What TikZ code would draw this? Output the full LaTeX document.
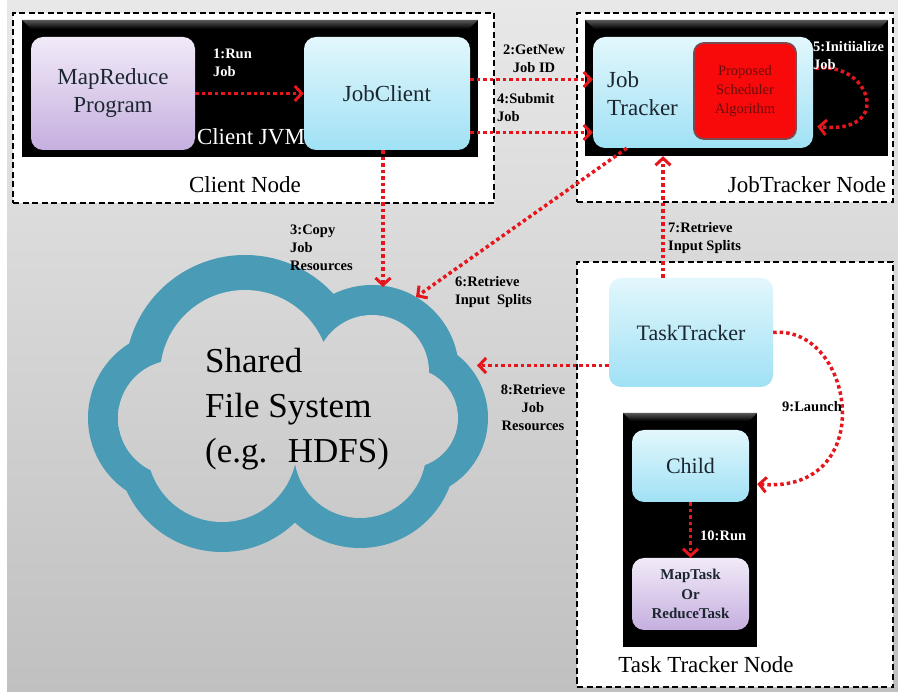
\documentclass[tikz,border=0pt]{standalone}
\usepackage{fontspec}
\setmainfont{Liberation Serif}
\usetikzlibrary{arrows.meta}
\definecolor{bgtop}{HTML}{E8E8E8}
\definecolor{bgbot}{HTML}{C0C0C0}
\definecolor{arrred}{HTML}{E5161C}
\definecolor{cloudc}{HTML}{4A9BB6}
\definecolor{cyantop}{HTML}{E2F7FC}
\definecolor{cyanbot}{HTML}{A0E1F5}
\definecolor{lavtop}{HTML}{F1EAF8}
\definecolor{lavbot}{HTML}{C5AFDF}
\definecolor{boxtxt}{HTML}{1C2630}
\definecolor{redbox}{HTML}{F80A0A}
\definecolor{redbord}{HTML}{7A4A50}
\definecolor{redtxt}{HTML}{6B0D0D}
\definecolor{bevel}{HTML}{5A5A5A}
\newcommand\szBig{\fontsize{23}{28}\selectfont}
\newcommand\szLbl{\fontsize{14.5}{18}\selectfont\bfseries}
\newcommand\szCloud{\fontsize{35}{45}\selectfont}
\tikzset{
  nodebox/.style={draw=black, line width=1.8pt, dash pattern=on 6pt off 3.5pt, fill=white, inner sep=0pt},
  jvmbox/.style={fill=black, inner sep=0pt},
  bevelshade/.style={top color=bevel, bottom color=black},
  cyanbox/.style={rounded corners=12pt, top color=cyantop, bottom color=cyanbot, text=boxtxt, font=\szBig, inner sep=0pt, align=center},
  lavbox/.style={rounded corners=12pt, top color=lavtop, bottom color=lavbot, text=boxtxt, font=\szBig, inner sep=0pt, align=center},
  algbox/.style={rounded corners=10pt, fill=redbox, draw=redbord, line width=1.8pt, text=redtxt, font=\fontsize{14.5}{19}\selectfont, inner sep=0pt, align=center},
  bigtxt/.style={font=\szBig, inner sep=0pt},
  lbl/.style={font=\szLbl, text=black, inner sep=0pt},
  wlbl/.style={lbl, text=white},
  flow/.style={draw=arrred, line width=3.5pt, dash pattern=on 3.5pt off 3pt,
    -{Straight Barb[length=7pt,width=15pt,line width=3pt]}}
}
\begin{document}
\begin{tikzpicture}[x=1pt,y=-1pt]
\useasboundingbox (0,0) rectangle (898,692);
\fill[white] (0,0) rectangle (898,692);
\shade[top color=bgtop,bottom color=bgbot] (7,0) rectangle (898,692);

% cloud
\fill[cloudc] (176,418) circle[radius=88pt] (245,375) circle[radius=120pt]
  (372,372) circle[radius=87pt] (408,418) circle[radius=80pt]
  (360,452) circle[radius=96pt] (222,447) circle[radius=105pt];
\begin{scope}
\clip (176,418) circle[radius=58pt] (245,375) circle[radius=85pt]
  (372,372) circle[radius=57pt] (408,418) circle[radius=50pt]
  (360,452) circle[radius=66pt] (222,447) circle[radius=75pt];
\shade[top color=bgtop,bottom color=bgbot] (7,0) rectangle (898,692);
\end{scope}
\node[font=\szCloud, inner sep=0pt, anchor=base west] (fs1) at (205,373) {Shared};
\node[font=\szCloud, inner sep=0pt, anchor=base west] (fs2) at (205,418) {File System};
\node[font=\szCloud, inner sep=0pt, anchor=base west] (fs3) at (205,463) {(e.g.~ HDFS)};
\coordinate (cl3) at (383,287);
\coordinate (cl6) at (416,297);
\coordinate (cl8) at (477,365.5);

% client node
\node[nodebox, minimum width=481pt, minimum height=190pt] (cnode) at (253.5,108) {};
\node[jvmbox, minimum width=456pt, minimum height=137pt] (cjvm) at (250,88.5) {};
\shade[bevelshade] (cjvm.north west) -- (cjvm.north east) -- ([xshift=-9pt,yshift=-9pt]cjvm.north east) -- ([xshift=9pt,yshift=-9pt]cjvm.north west) -- cycle;
\node[lavbox, minimum width=164pt, minimum height=113pt] (mr) at (113,93.5) {MapReduce\\Program};
\node[cyanbox, minimum width=166pt, minimum height=113pt] (jc) at (387,93.5) {JobClient};
\node[bigtxt, text=white] (cjvmt) at (251,137) {Client JVM};
\node[bigtxt] (cnodet) at (245,185) {Client Node};

% jobtracker node
\node[nodebox, minimum width=316pt, minimum height=189pt] (jtnode) at (735,107.5) {};
\node[jvmbox, minimum width=303pt, minimum height=136pt] (jtb) at (736.5,88) {};
\shade[bevelshade] (jtb.north west) -- (jtb.north east) -- ([xshift=-9pt,yshift=-9pt]jtb.north east) -- ([xshift=9pt,yshift=-9pt]jtb.north west) -- cycle;
\node[cyanbox, minimum width=220pt, minimum height=111pt] (jt) at (703,92.5) {};
\node[bigtxt, text=boxtxt, align=left, anchor=west] (jtt) at (607,94) {Job\\Tracker};
\node[algbox, minimum width=102pt, minimum height=96pt] (alg) at (745,91) {Proposed\\Scheduler\\Algorithm};
\node[bigtxt] (jtnodet) at (807,185) {JobTracker Node};

% tasktracker node
\node[nodebox, minimum width=316pt, minimum height=425pt] (ttnode) at (735,474.5) {};
\node[cyanbox, font=\fontsize{22}{26}\selectfont, minimum width=164pt, minimum height=109pt] (tt) at (691,332.5) {TaskTracker};
\node[jvmbox, minimum width=134pt, minimum height=234pt] (chb) at (690,530) {};
\shade[bevelshade] (chb.north west) -- (chb.north east) -- ([xshift=-8pt,yshift=-8pt]chb.north east) -- ([xshift=8pt,yshift=-8pt]chb.north west) -- cycle;
\node[cyanbox, font=\fontsize{22}{26}\selectfont, minimum width=117pt, minimum height=72pt] (ch) at (690.5,466) {Child};
\node[lavbox, font=\fontsize{15}{19.5}\selectfont\bfseries, minimum width=117pt, minimum height=72pt] (mt) at (690.5,594) {MapTask\\Or\\ReduceTask};
\node[bigtxt] (ttnodet) at (706,665) {Task Tracker Node};

% connectors
\draw[flow] (mr.east) -- (jc.west);
\draw[flow] ([yshift=14pt]jc.east) -- ([yshift=14pt]jc.east -| jt.west);
\draw[flow] ([yshift=-39pt]jc.east) -- ([yshift=-39pt]jc.east -| jt.west);
\draw[flow] ([xshift=-4pt]jc.south) -- (cl3);
\draw[flow] ([xshift=2pt,yshift=24pt]jt.east) .. controls (870,60) and (895,135) .. ([xshift=4pt,yshift=-34pt]jt.east);
\draw[flow] ([xshift=34pt]jt.south west) -- (cl6);
\draw[flow] ([xshift=-28pt]tt.north) -- ([xshift=-28pt]tt.north |- jtb.south);
\draw[flow] ([yshift=-33pt]tt.west) -- (cl8);
\draw[flow] (tt.east) .. controls (855,325) and (880,495) .. ([yshift=46pt]chb.east);
\draw[flow] (ch.south) -- (mt.north);

% labels
\node[wlbl, align=left, anchor=west] (l1) at (213,63) {1:Run\\Job};
\node[lbl, align=center] (l2) at (534,59) {2:GetNew\\Job ID};
\node[lbl, align=left, anchor=west] (l4) at (497,108) {4:Submit\\Job};
\node[lbl, align=left, anchor=west] (l3) at (290,248) {3:Copy\\Job\\Resources};
\node[wlbl, align=left, anchor=west] (l5) at (813,56) {5:Initiialize\\Job};
\node[lbl, align=left, anchor=west] (l6) at (455,292) {6:Retrieve\\Input~ Splits};
\node[lbl, align=left, anchor=west] (l7) at (668,238) {7:Retrieve\\Input Splits};
\node[lbl, align=center] (l8) at (533,408) {8:Retrieve\\Job\\Resources};
\node[lbl, anchor=west] (l9) at (782,407) {9:Launch};
\node[wlbl, anchor=west] (l10) at (700,536) {10:Run};
\end{tikzpicture}
\end{document}
